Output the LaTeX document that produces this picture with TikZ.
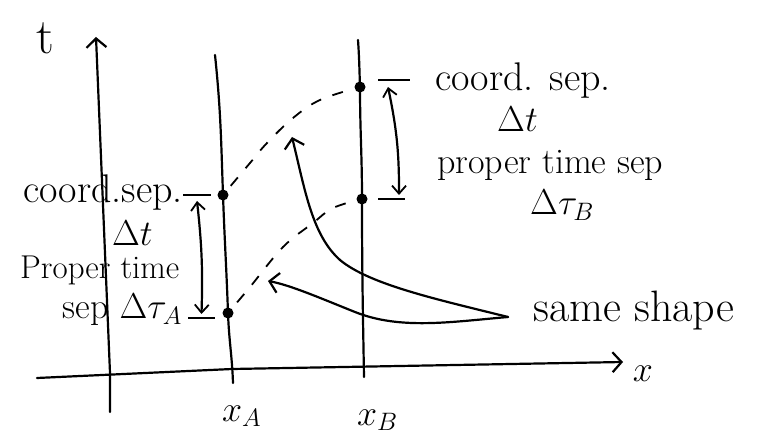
\documentclass[tikz,border=0pt]{standalone}
\usepackage{fix-cm}
\usepackage{tikz}
\usetikzlibrary{arrows.meta,positioning,calc}
\tikzset{
  hand/.style={line width=2.2pt,line cap=round},
  barb/.style={-{Straight Barb[length=9pt,width=20pt,line width=2.2pt]}},
  dbarb/.style={{Straight Barb[length=8pt,width=14pt,line width=1.8pt]}-{Straight Barb[length=8pt,width=14pt,line width=1.8pt]}},
  event/.style={circle,fill=black,inner sep=0pt,minimum size=11pt},
  note/.style={font=\fontsize{36}{40}\selectfont,inner sep=0pt},
  bignote/.style={note,font=\fontsize{40}{44}\selectfont},
  simul/.style={line width=1.8pt,dash pattern=on 11pt off 12pt},
  tickmark/.style={line width=2.2pt},
}

\begin{document}
\begin{tikzpicture}[x=1pt,y=-1pt]
  \useasboundingbox (0,0) rectangle (763,446);

  % axes
  \coordinate (tbot) at (110,412);
  \coordinate (ttop) at (96,37);
  \coordinate (xleft) at (37,378);
  \coordinate (xright) at (623,362);
  \draw[hand,barb] (tbot) -- (110,373) -- (ttop);
  \draw[hand,barb] (xleft) -- (232,369) -- (xright);
  \node[note,font=\fontsize{50}{52}\selectfont] (tlab) at (45,38) {t};
  \node[note] (xlab) at (643,374) {$x$};

  % world lines of A and B
  \node[event] (A1) at (223,195) {};
  \node[event] (A2) at (228,313) {};
  \node[event] (B1) at (360,87) {};
  \node[event] (B2) at (362,199) {};
  \draw[hand] (215,55) to[out=-84,in=92] (A1.center) to[out=-88,in=92] (A2.center) to[out=-88,in=92] (233,383);
  \draw[hand] (358,40) to[out=-86,in=92] (B1.center) to[out=-90,in=90] (B2.center) to[out=-90,in=91] (364,377);
  \node[note,anchor=base west] (xA) at (222,421) {$x_A$};
  \node[note,anchor=base west] (xB) at (357,425) {$x_B$};

  % simultaneity curves (dashed)
  \draw[simul,shorten <=12pt,shorten >=10pt] plot[smooth,tension=0.6]
    coordinates {(A1) (250,163) (267,143) (293,118) (320,100) (B1)};
  \draw[simul,shorten <=14pt,shorten >=9pt] plot[smooth,tension=0.6]
    coordinates {(A2) (250,287) (283,247) (313,223) (333,208) (B2)};

  % separations at A
  \coordinate (ta1) at (183,195);
  \coordinate (ta2) at (211,195);
  \coordinate (ta3) at (188,318);
  \coordinate (ta4) at (215,318);
  \draw[tickmark] (ta1) -- (ta2);
  \draw[tickmark] (ta3) -- (ta4);
  \draw[hand,dbarb] ($(ta1)!0.5!(ta2)+(0,6)$) to[bend left=4] ($(ta3)!0.5!(ta4)+(0,-4)$);

  % separations at B
  \coordinate (tb1) at (378,80);
  \coordinate (tb2) at (410,80);
  \coordinate (tb3) at (378,199);
  \coordinate (tb4) at (405,199);
  \draw[tickmark] (tb1) -- (tb2);
  \draw[tickmark] (tb3) -- (tb4);
  \draw[hand,dbarb] (388,87) to[bend left=6] (399,195);

  % labels at A
  \node[bignote,anchor=base east] (csA) at (183,203) {coord.sep.};
  \node[note,anchor=base west] (dtA) at (112,246) {$\Delta t$};
  \node[note,font=\fontsize{33}{36}\selectfont,anchor=base west] (ptA) at (20,279) {Proper time};
  \node[note,anchor=base east] (spA) at (182,319) {sep $\Delta\tau_A$};

  % labels at B
  \node[bignote,anchor=base west] (csB) at (435,91) {coord. sep.};
  \node[note,anchor=base west] (dtB) at (497,132) {$\Delta t$};
  \node[note,anchor=base west] (ptB) at (437,174) {proper time sep};
  \node[note,anchor=base west] (spB) at (530,215) {$\Delta\tau_B$};

  % same shape
  \coordinate (tip) at (508,317);
  \node[note,font=\fontsize{44}{48}\selectfont,anchor=base west] (same) at (533,321) {same shape};
  \draw[hand,barb] (tip) .. controls (440,300) and (370,285) .. (340,260)
    .. controls (312,235) and (305,190) .. (292,137);
  \draw[hand,barb] (tip) .. controls (450,322) and (400,330) .. (355,312)
    .. controls (320,298) and (290,285) .. (268,281);
\end{tikzpicture}
\end{document}
